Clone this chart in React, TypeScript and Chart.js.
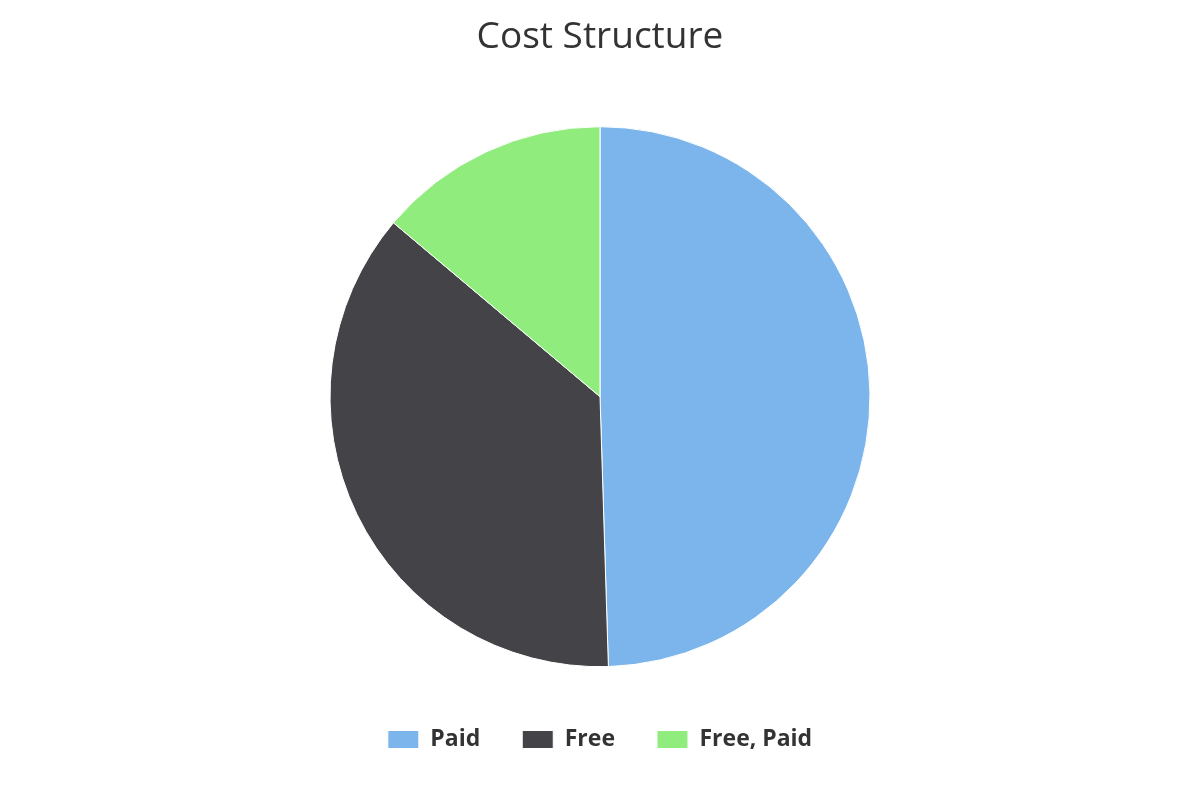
import React, { useEffect, useRef } from "react";
import { Chart, registerables } from "chart.js";

Chart.register(...registerables);

const labels = ["Paid", "Free", "Free, Paid"];
const values = [50, 37, 14];
const colors = ["#7cb5ec", "#434348", "#90ed7d"];
const titleText = "Cost Structure";

export default function App() {
  const ref = useRef<HTMLCanvasElement>(null);
  useEffect(() => {
    document.body.style.margin = "0";
    const chart = new Chart(ref.current!, {
      type: "pie",
      data: {
        labels,
        datasets: [
          {
            data: values,
            backgroundColor: colors,
            borderColor: "#ffffff",
            borderWidth: 1,
            radius: 270,
          },
        ],
      },
      options: {
        responsive: false,
        animation: false,
        layout: { padding: { bottom: 39 } },
        plugins: {
          title: {
            display: true,
            text: titleText,
            color: "#333333",
            font: { family: "'Open Sans'", size: 37, weight: "normal" },
            padding: { top: 15, bottom: 48 },
          },
          legend: {
            position: "bottom",
            labels: {
              color: "#333333",
              font: { family: "'Open Sans'", size: 23, weight: "bold" },
              boxWidth: 31,
              boxHeight: 18,
              padding: 42,
            },
          },
          tooltip: { enabled: false },
        },
      },
    });
    return () => chart.destroy();
  }, []);
  return (
    <div style={{ width: 1200, height: 800 }}>
      <canvas ref={ref} width={1200} height={800} />
    </div>
  );
}
